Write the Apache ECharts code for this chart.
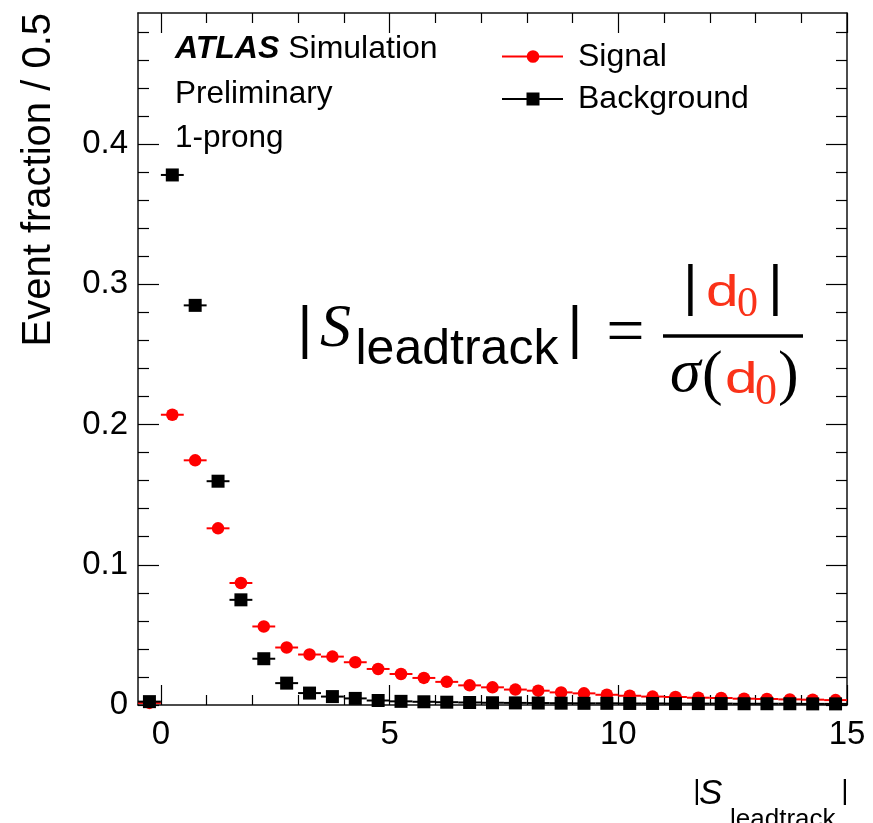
<!DOCTYPE html>
<html>
<head>
<meta charset="utf-8">
<script src="https://cdn.jsdelivr.net/npm/echarts@6.0.0/dist/echarts.min.js"></script>
<style>
html,body{margin:0;padding:0;background:#fff;}
#chart{width:873px;height:823px;}
</style>
</head>
<body>
<div id="chart"></div>
<script>
// ---- data ----
const binCenters = [-0.25, 0.25, 0.75, 1.25, 1.75, 2.25, 2.75, 3.25, 3.75, 4.25, 4.75,
  5.25, 5.75, 6.25, 6.75, 7.25, 7.75, 8.25, 8.75, 9.25, 9.75,
  10.25, 10.75, 11.25, 11.75, 12.25, 12.75, 13.25, 13.75, 14.25, 14.75];
const binHalfWidth = 0.25;
const signalValues = [0.0015, 0.207, 0.1745, 0.126, 0.087, 0.056, 0.041, 0.036, 0.0345, 0.0305, 0.0257,
  0.0221, 0.0193, 0.0165, 0.014, 0.0126, 0.011, 0.0102, 0.009, 0.0083, 0.0073,
  0.0066, 0.006, 0.0057, 0.0052, 0.005, 0.0045, 0.0043, 0.004, 0.0038, 0.0035];
const backgroundValues = [0.0024, 0.378, 0.285, 0.1596, 0.075, 0.033, 0.0156, 0.0085, 0.006, 0.0047, 0.0032,
  0.0026, 0.0023, 0.002, 0.0018, 0.0016, 0.0015, 0.0014, 0.0013, 0.0012, 0.0012,
  0.0011, 0.0011, 0.001, 0.001, 0.001, 0.0009, 0.0009, 0.0009, 0.0008, 0.0008];
const seriesNames = ['Signal', 'Background'];
const xMajorTicks = [0, 5, 10, 15];
const xMinorTicks = [1, 2, 3, 4, 6, 7, 8, 9, 11, 12, 13, 14];
const yMajorTicks = [0, 0.1, 0.2, 0.3, 0.4];
const yMinorTicks = [0.02, 0.04, 0.06, 0.08, 0.12, 0.14, 0.16, 0.18, 0.22, 0.24, 0.26, 0.28,
  0.32, 0.34, 0.36, 0.38, 0.42, 0.44, 0.46, 0.48];
const xRange = [-0.5, 15];
const yRange = [0, 0.4935];
const yTitle = 'Event fraction / 0.5';

// ---- styling ----
const SANS = '"Liberation Sans", Arial, sans-serif';
const SERIF = '"Liberation Serif", "Times New Roman", serif';
const RED = '#ff0000';
const FRED = '#fa3219';
const frameLine = { show: true, onZero: false, lineStyle: { color: '#111', width: 1.5 } };
const noLine = { show: false, onZero: false };

function pairs(ys) { return binCenters.map((x, i) => [x, ys[i]]); }

function makeX(pos, ticks, len, showLine, showLabel) {
  return {
    type: 'value', position: pos, min: xRange[0], max: xRange[1], gridIndex: 0,
    axisLine: showLine ? frameLine : noLine,
    axisTick: { show: true, inside: true, length: len, customValues: ticks, lineStyle: { color: '#000', width: 1.2 } },
    axisLabel: showLabel ? { show: true, customValues: ticks, margin: 13, fontFamily: SANS, fontSize: 33, color: '#000' } : { show: false },
    splitLine: { show: false }
  };
}
function makeY(pos, ticks, len, showLine, showLabel) {
  return {
    type: 'value', position: pos, min: yRange[0], max: yRange[1], gridIndex: 0,
    axisLine: showLine ? frameLine : noLine,
    axisTick: { show: true, inside: true, length: len, customValues: ticks, lineStyle: { color: '#000', width: 1.2 } },
    axisLabel: showLabel ? { show: true, customValues: ticks, margin: 10, fontFamily: SANS, fontSize: 33, color: '#000',
      formatter: v => (v === 0 ? '0' : v.toFixed(1)) } : { show: false },
    splitLine: { show: false }
  };
}

function errBarSeries(name, data, color) {
  return {
    type: 'custom', name: name, xAxisIndex: 0, yAxisIndex: 0, data: data, clip: true,
    renderItem: function (params, api) {
      const x = api.value(0), y = api.value(1);
      const p1 = api.coord([x - binHalfWidth, y]);
      const p2 = api.coord([x + binHalfWidth, y]);
      return { type: 'line', shape: { x1: p1[0], y1: p1[1], x2: p2[0], y2: p2[1] },
        style: { stroke: color, lineWidth: 2 } };
    },
    silent: true
  };
}

const option = {
  animation: false,
  backgroundColor: '#fff',
  grid: { left: 138, right: 26, top: 13, bottom: 118, containLabel: false },
  xAxis: [
    makeX('bottom', xMajorTicks, 20, true, true),
    makeX('bottom', xMinorTicks, 10, false, false),
    makeX('top', xMajorTicks, 20, true, false),
    makeX('top', xMinorTicks, 10, false, false)
  ],
  yAxis: [
    makeY('left', yMajorTicks, 21, true, true),
    makeY('left', yMinorTicks, 11, false, false),
    makeY('right', yMajorTicks, 21, true, false),
    makeY('right', yMinorTicks, 11, false, false)
  ],
  series: [
    errBarSeries(seriesNames[0] + ' bins', pairs(signalValues), RED),
    { type: 'scatter', name: seriesNames[0], data: pairs(signalValues), symbol: 'circle', symbolSize: 12.5,
      itemStyle: { color: RED, opacity: 1 }, z: 3 },
    errBarSeries(seriesNames[1] + ' bins', pairs(backgroundValues), '#000'),
    { type: 'scatter', name: seriesNames[1], data: pairs(backgroundValues), symbol: 'rect', symbolSize: 13,
      itemStyle: { color: '#000', opacity: 1 }, z: 4 }
  ],
  graphic: [
    // y-axis title
    { type: 'text', x: 39, y: 13, rotation: Math.PI / 2,
      style: { text: yTitle, font: '40px ' + SANS, fill: '#000', align: 'right', verticalAlign: 'middle' } },
    // x-axis title
    { type: 'text', x: 697, y: 791, style: { text: '|', font: '28px ' + SANS, fill: '#000', align: 'center', verticalAlign: 'middle' } },
    { type: 'text', x: 699, y: 794, style: { text: 'S', font: 'italic 35px ' + SANS, fill: '#000', align: 'left', verticalAlign: 'middle' } },
    { type: 'text', x: 730, y: 820, style: { text: 'leadtrack', font: '26px ' + SANS, fill: '#000', align: 'left', verticalAlign: 'middle' } },
    { type: 'text', x: 845, y: 791, style: { text: '|', font: '28px ' + SANS, fill: '#000', align: 'center', verticalAlign: 'middle' } },
    // ATLAS label
    { type: 'text', x: 175, y: 49, style: { text: '{b|ATLAS} Simulation', font: '32px ' + SANS, fill: '#000', align: 'left', verticalAlign: 'middle',
      rich: { b: { fontFamily: SANS, fontSize: 32, fontWeight: 'bold', fontStyle: 'italic', fill: '#000' } } } },
    { type: 'text', x: 175, y: 94, style: { text: 'Preliminary', font: '31.5px ' + SANS, fill: '#000', align: 'left', verticalAlign: 'middle' } },
    { type: 'text', x: 175, y: 138, style: { text: '1-prong', font: '31.5px ' + SANS, fill: '#000', align: 'left', verticalAlign: 'middle' } },
    // legend
    { type: 'line', shape: { x1: 502, y1: 56.5, x2: 563, y2: 56.5 }, style: { stroke: RED, lineWidth: 2 } },
    { type: 'circle', shape: { cx: 533, cy: 56.5, r: 6.3 }, style: { fill: RED } },
    { type: 'text', x: 578, y: 57.5, style: { text: seriesNames[0], font: '32px ' + SANS, fill: '#000', align: 'left', verticalAlign: 'middle' } },
    { type: 'line', shape: { x1: 502, y1: 99, x2: 563, y2: 99 }, style: { stroke: '#000', lineWidth: 2 } },
    { type: 'rect', shape: { x: 526.5, y: 92.5, width: 13, height: 13 }, style: { fill: '#000' } },
    { type: 'text', x: 578, y: 99.5, style: { text: seriesNames[1], font: '32px ' + SANS, fill: '#000', align: 'left', verticalAlign: 'middle' } },
    // formula |S_leadtrack| = |d0| / sigma(d0)
    { type: 'text', x: 305, y: 331, style: { text: '|', font: '57px ' + SANS, fill: '#000', align: 'center', verticalAlign: 'middle' } },
    { type: 'text', x: 320, y: 330, style: { text: 'S', font: 'italic 62px ' + SERIF, fill: '#000', align: 'left', verticalAlign: 'middle' } },
    { type: 'text', x: 355.5, y: 350.5, style: { text: 'leadtrack', font: '50px ' + SANS, fill: '#000', align: 'left', verticalAlign: 'middle' } },
    { type: 'text', x: 575, y: 331, style: { text: '|', font: '57px ' + SANS, fill: '#000', align: 'center', verticalAlign: 'middle' } },
    { type: 'text', x: 625.5, y: 335, style: { text: '=', font: '68px ' + SERIF, fill: '#000', align: 'center', verticalAlign: 'middle' } },
    { type: 'line', shape: { x1: 663, y1: 336, x2: 803, y2: 336 }, style: { stroke: '#000', lineWidth: 3.5 } },
    { type: 'text', x: 690.5, y: 288.5, style: { text: '|', font: '55px ' + SANS, fill: '#000', align: 'center', verticalAlign: 'middle' } },
    { type: 'text', x: 706, y: 293.5, scaleX: 1.3, style: { text: 'd', font: '45px ' + SANS, fill: FRED, align: 'left', verticalAlign: 'middle' } },
    { type: 'text', x: 737, y: 304.5, style: { text: '0', font: '42px ' + SERIF, fill: FRED, align: 'left', verticalAlign: 'middle' } },
    { type: 'text', x: 775.5, y: 288.5, style: { text: '|', font: '55px ' + SANS, fill: '#000', align: 'center', verticalAlign: 'middle' } },
    { type: 'text', x: 670, y: 375, style: { text: 'σ', font: 'italic 62px ' + SERIF, fill: '#000', align: 'left', verticalAlign: 'middle' } },
    { type: 'text', x: 702, y: 377, style: { text: '(', font: '62px ' + SERIF, fill: '#000', align: 'left', verticalAlign: 'middle' } },
    { type: 'text', x: 725, y: 380.5, scaleX: 1.3, style: { text: 'd', font: '45px ' + SANS, fill: FRED, align: 'left', verticalAlign: 'middle' } },
    { type: 'text', x: 755, y: 392.5, style: { text: '0', font: '44px ' + SERIF, fill: FRED, align: 'left', verticalAlign: 'middle' } },
    { type: 'text', x: 778, y: 377, style: { text: ')', font: '62px ' + SERIF, fill: '#000', align: 'left', verticalAlign: 'middle' } }
  ]
};

const chart = echarts.init(document.getElementById('chart'), null, { renderer: 'canvas' });
chart.setOption(option);
</script>
</body>
</html>
